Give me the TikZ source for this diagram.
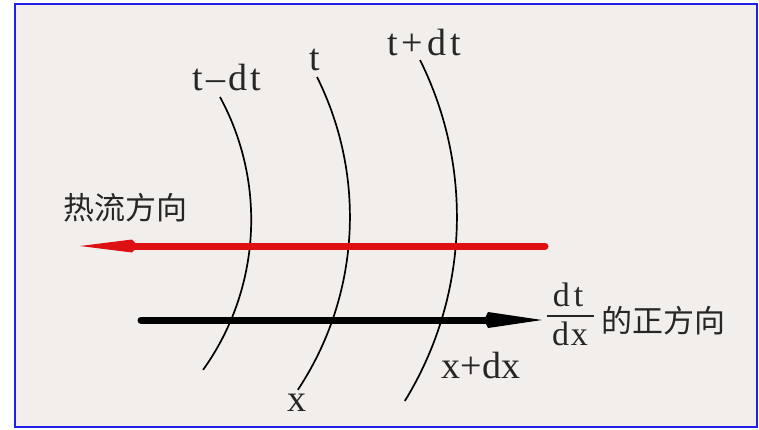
\documentclass[tikz,border=0pt]{standalone}
\usepackage{fontspec}
\setmainfont{Liberation Serif}
\newfontfamily\cjk{Noto Sans CJK SC}
\definecolor{bg}{HTML}{F2EEEB}
\definecolor{frameblue}{HTML}{2020E8}
\definecolor{heatred}{HTML}{DD1111}
\definecolor{ink}{HTML}{262626}
\begin{document}
\begin{tikzpicture}[x=1pt,y=-1pt,
  lab/.style={inner sep=0pt,anchor=base,text=ink,font=\fontsize{38pt}{44pt}\selectfont},
  flab/.style={inner sep=0pt,anchor=base,text=ink,font=\fontsize{34pt}{40pt}\selectfont},
  clab/.style={inner sep=0pt,anchor=base,text=ink,font=\cjk\fontsize{31pt}{36pt}\selectfont},
  iso/.style={draw=black,line width=1.7pt},
  shaft/.style={line width=7pt,line cap=round}]
\useasboundingbox (0,0) rectangle (759,429);
\fill[white] (0,0) rectangle (759,429);
\fill[bg] (15,4) rectangle (757,427);
\draw[frameblue,line width=2pt] (15,4) rectangle (757,427);

% isotherms (circular arcs)
\coordinate (a0) at (220,97);
\coordinate (b0) at (317,77);
\coordinate (c0) at (420,60);
\draw[iso] (a0) arc[start angle=28.5, end angle=-35.6, radius=257.6pt];
\draw[iso] (b0) arc[start angle=26.5, end angle=-33.5, radius=313.4pt];
\draw[iso] (c0) arc[start angle=26.5, end angle=-31.6, radius=351.5pt];

% heat flow arrow (red)
\coordinate (rs) at (545,246); \coordinate (rb) at (132,246); \coordinate (rt) at (80,246);
\draw[heatred,shaft] (rs) -- (rb);
\fill[heatred] (rt) -- ([yshift=-6.5pt]rb) -- ([xshift=6pt]rb) -- ([yshift=6.5pt]rb) -- cycle;

% positive direction arrow (black)
\coordinate (ks) at (141,320); \coordinate (kb) at (488,320); \coordinate (kt) at (542,320);
\draw[black,shaft] (ks) -- (kb);
\fill[black] (kt) -- ([yshift=-8pt]kb) -- ([xshift=-4pt]kb) -- ([yshift=8pt]kb) -- cycle;

% labels
\node[lab] (l1) at (227,90) {t\kern3pt–\kern3pt d\kern3pt t};
\node[lab] (l2) at (315,70) {t};
\node[lab] (l3) at (424,55) {t\kern4pt+\kern4pt d\kern4pt t};
\node[lab] (l4) at (481,378) {x+dx};
\node[lab] (l5) at (297,411) {x};
\node[clab] (hf) at (125,219) {热流方向};
\node[flab] (num) at (568,306) {d\kern4pt t};
\node[flab] (den) at (570,345) {d\kern2pt x};
\draw[ink,line width=1.5pt] (547,316) -- (594,316);
\node[clab] (pd) at (663,332) {的正方向};
\end{tikzpicture}
\end{document}
